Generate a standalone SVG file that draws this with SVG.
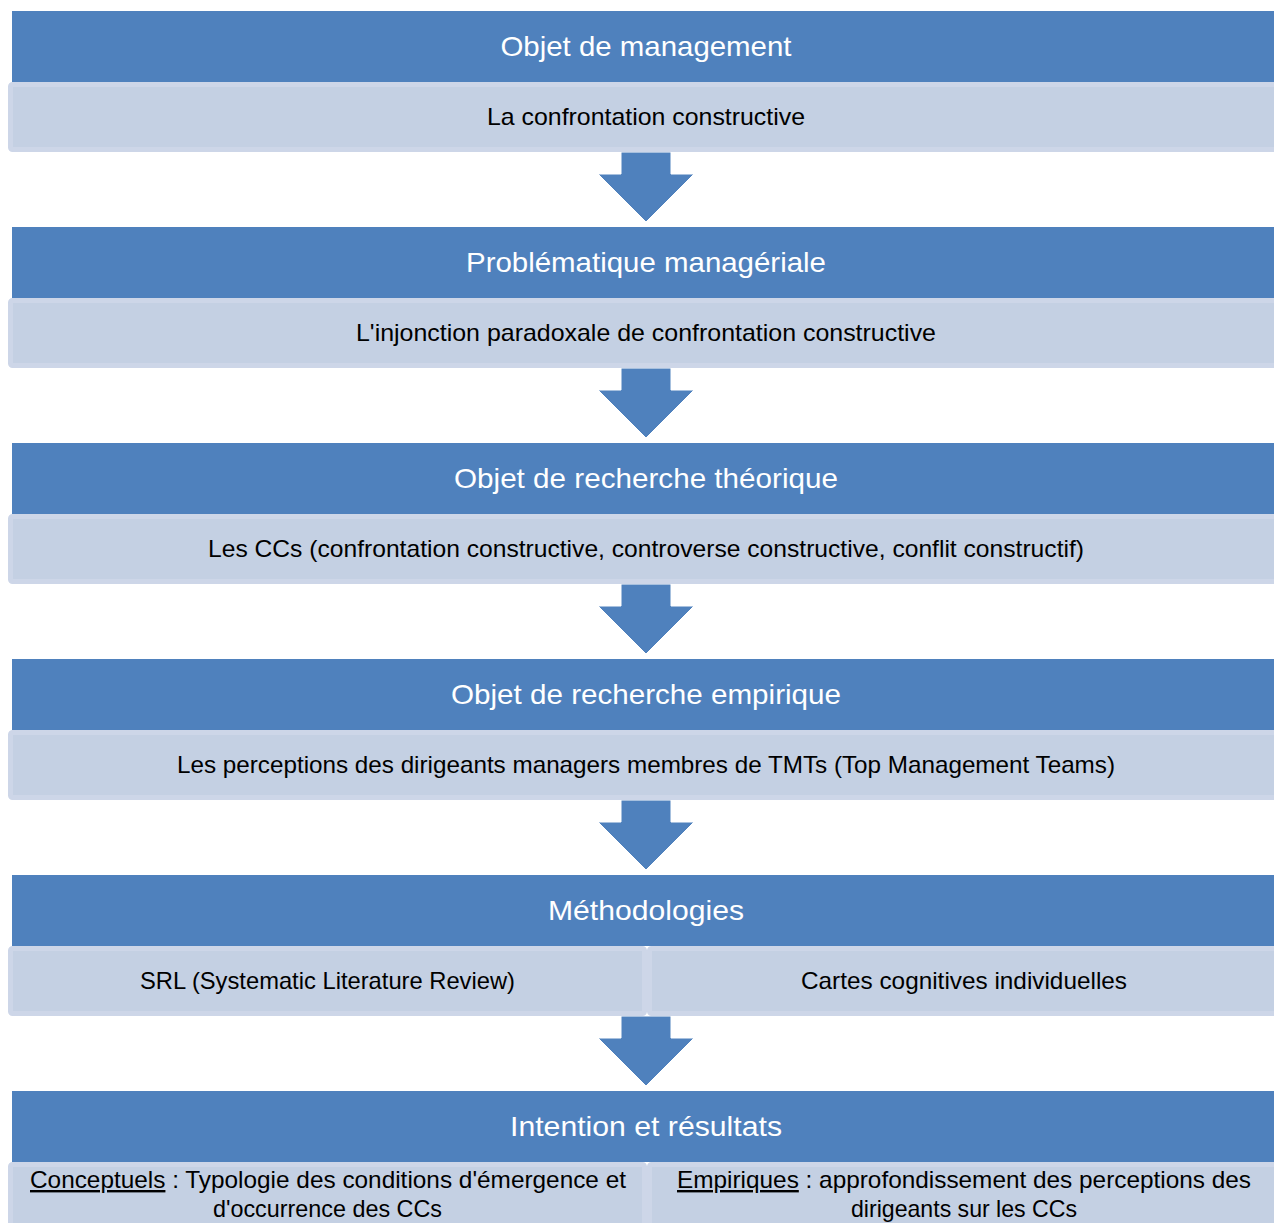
<svg xmlns="http://www.w3.org/2000/svg" width="1274" height="1223" viewBox="0 0 1274 1223">
  <style>
    .hd { fill: #4f81bd; }
    .bx { fill: #c4d0e3; stroke: #cdd6e8; stroke-width: 5; }
    .ht { font-family: "Liberation Sans", Arial, sans-serif; font-size: 28px; fill: #ffffff; text-anchor: middle; }
    .bt { font-family: "Liberation Sans", Arial, sans-serif; font-size: 24px; fill: #000000; text-anchor: middle; }
    .arrow { fill: #4f81bd; stroke: #ffffff; stroke-width: 1; stroke-linejoin: round; }
    .u { text-decoration: underline; }
  </style>
  <defs>
    <polygon id="down" class="arrow" points="621,152 671,152 671,174 694,174 646,222 598,174 621,174"/>
  </defs>
  <rect width="1274" height="1223" fill="#ffffff"/>

  <!-- step arrows between stages -->
  <g id="connectors">
    <use href="#down"/>
    <use href="#down" y="216"/>
    <use href="#down" y="432"/>
    <use href="#down" y="648"/>
    <use href="#down" y="864"/>
  </g>

  <g id="objet-management">
    <rect class="hd" x="12" y="11" width="1268" height="71"/>
    <text class="ht" x="646" y="56" textLength="291" lengthAdjust="spacingAndGlyphs">Objet de management</text>
    <rect class="bx" x="10.5" y="84.5" width="1271" height="65" rx="2"/>
    <text class="bt" x="646" y="125" textLength="318" lengthAdjust="spacingAndGlyphs">La confrontation constructive</text>
  </g>

  <g id="problematique">
    <rect class="hd" x="12" y="227" width="1268" height="71"/>
    <text class="ht" x="646" y="272" textLength="360" lengthAdjust="spacingAndGlyphs">Problématique managériale</text>
    <rect class="bx" x="10.5" y="300.5" width="1271" height="65" rx="2"/>
    <text class="bt" x="646" y="341" textLength="580" lengthAdjust="spacingAndGlyphs">L'injonction paradoxale de confrontation constructive</text>
  </g>

  <g id="objet-theorique">
    <rect class="hd" x="12" y="443" width="1268" height="71"/>
    <text class="ht" x="646" y="488" textLength="384" lengthAdjust="spacingAndGlyphs">Objet de recherche théorique</text>
    <rect class="bx" x="10.5" y="516.5" width="1271" height="65" rx="2"/>
    <text class="bt" x="646" y="557" textLength="876" lengthAdjust="spacingAndGlyphs">Les CCs (confrontation constructive, controverse constructive, conflit constructif)</text>
  </g>

  <g id="objet-empirique">
    <rect class="hd" x="12" y="659" width="1268" height="71"/>
    <text class="ht" x="646" y="704" textLength="390" lengthAdjust="spacingAndGlyphs">Objet de recherche empirique</text>
    <rect class="bx" x="10.5" y="732.5" width="1271" height="65" rx="2"/>
    <text class="bt" x="646" y="773" textLength="938" lengthAdjust="spacingAndGlyphs">Les perceptions des dirigeants managers membres de TMTs (Top Management Teams)</text>
  </g>

  <g id="methodologies">
    <rect class="hd" x="12" y="875" width="1268" height="71"/>
    <text class="ht" x="646" y="920" textLength="196" lengthAdjust="spacingAndGlyphs">Méthodologies</text>
    <rect class="bx" x="10.5" y="948.5" width="634" height="65" rx="2"/>
    <rect class="bx" x="649.5" y="948.5" width="632" height="65" rx="2"/>
    <text class="bt" x="327.5" y="989" textLength="375" lengthAdjust="spacingAndGlyphs">SRL (Systematic Literature Review)</text>
    <text class="bt" x="964" y="989" textLength="326" lengthAdjust="spacingAndGlyphs">Cartes cognitives individuelles</text>
  </g>

  <g id="intention-resultats">
    <rect class="hd" x="12" y="1091" width="1268" height="71"/>
    <text class="ht" x="646" y="1136" textLength="272" lengthAdjust="spacingAndGlyphs">Intention et résultats</text>
    <rect class="bx" x="10.5" y="1164.5" width="634" height="70" rx="2"/>
    <rect class="bx" x="649.5" y="1164.5" width="632" height="70" rx="2"/>
    <text class="bt" x="328" y="1188" textLength="596" lengthAdjust="spacingAndGlyphs"><tspan class="u">Conceptuels</tspan> : Typologie des conditions d'émergence et</text>
    <text class="bt" x="327.5" y="1217" textLength="229" lengthAdjust="spacingAndGlyphs">d'occurrence des CCs</text>
    <text class="bt" x="964" y="1188" textLength="574" lengthAdjust="spacingAndGlyphs"><tspan class="u">Empiriques</tspan> : approfondissement des perceptions des</text>
    <text class="bt" x="964" y="1217" textLength="226" lengthAdjust="spacingAndGlyphs">dirigeants sur les CCs</text>
  </g>
</svg>
